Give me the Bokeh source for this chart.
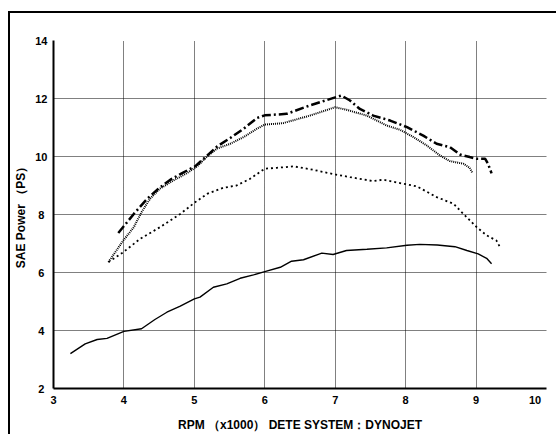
from bokeh.plotting import figure
from bokeh.models import Range1d, FixedTicker
from bokeh.embed import file_html
from bokeh.resources import INLINE

# ---- data ----
x_ticks = [3, 4, 5, 6, 7, 8, 9, 10]
y_ticks = [2, 4, 6, 8, 10, 12, 14]

solid_rpm = [3.24, 3.45, 3.62, 3.76, 4.0, 4.25, 4.44, 4.61, 4.80, 5.0, 5.08, 5.27, 5.46, 5.65, 5.84, 6.0,
             6.22, 6.38, 6.55, 6.81, 6.97, 7.16, 7.45, 7.73, 8.02, 8.20, 8.45, 8.70, 8.87, 9.03, 9.15, 9.22]
solid_ps = [3.20, 3.54, 3.69, 3.73, 3.97, 4.06, 4.38, 4.63, 4.84, 5.09, 5.15, 5.49, 5.61, 5.80, 5.92, 6.03,
            6.18, 6.39, 6.44, 6.67, 6.62, 6.76, 6.80, 6.85, 6.94, 6.97, 6.95, 6.89, 6.76, 6.64, 6.49, 6.30]

dashdot_rpm = [3.92, 4.14, 4.33, 4.49, 4.66, 4.82, 5.01, 5.15, 5.32, 5.51, 5.70, 5.89, 6.0, 6.31, 6.64,
               7.0, 7.09, 7.21, 7.35, 7.54, 7.78, 8.02, 8.25, 8.44, 8.63, 8.77, 8.91, 9.01, 9.13, 9.17, 9.22]
dashdot_ps = [7.36, 8.02, 8.54, 8.89, 9.20, 9.42, 9.66, 9.96, 10.34, 10.64, 10.96, 11.33, 11.42, 11.47, 11.76,
              12.04, 12.10, 11.93, 11.64, 11.41, 11.24, 11.01, 10.72, 10.44, 10.32, 10.07, 9.98, 9.92, 9.92, 9.75, 9.42]

dense_rpm = [3.78, 3.99, 4.14, 4.25, 4.37, 4.51, 4.70, 4.89, 5.04, 5.18, 5.32, 5.51, 5.70, 5.89, 6.0,
             6.26, 6.64, 7.0, 7.16, 7.45, 7.73, 7.92, 8.11, 8.30, 8.49, 8.63, 8.82, 8.91, 8.95]
dense_ps = [6.36, 7.10, 7.56, 8.08, 8.54, 8.89, 9.17, 9.42, 9.66, 10.0, 10.27, 10.44, 10.67, 10.96, 11.10,
            11.15, 11.41, 11.70, 11.61, 11.41, 11.07, 10.92, 10.67, 10.38, 10.03, 9.84, 9.75, 9.61, 9.42]

sparse_rpm = [3.78, 3.99, 4.23, 4.51, 4.80, 5.01, 5.18, 5.41, 5.60, 5.79, 6.0, 6.17, 6.41, 6.69, 7.0,
              7.21, 7.54, 7.68, 7.97, 8.16, 8.44, 8.68, 8.82, 9.01, 9.15, 9.29, 9.34]
sparse_ps = [6.36, 6.70, 7.16, 7.56, 8.02, 8.42, 8.71, 8.92, 9.0, 9.23, 9.58, 9.61, 9.66, 9.54, 9.38,
             9.29, 9.15, 9.20, 9.06, 8.97, 8.60, 8.37, 8.02, 7.56, 7.28, 7.10, 6.87]

x_label = "RPM （x1000） DETE SYSTEM：DYNOJET"
y_label = "SAE Power （PS）"

FONT = "Liberation Sans"
NB = "\u00a0"

p = figure(frame_width=493, frame_height=348, output_backend="svg", toolbar_location=None,
           x_range=Range1d(3, 10), y_range=Range1d(2, 14),
           min_border_left=43, min_border_top=27, min_border_right=10, min_border_bottom=44)
p.styles = {"border-top": "2px solid black", "border-left": "2px solid black",
            "margin-top": "11px", "margin-left": "8px"}
p.outline_line_color = None
p.background_fill_color = "white"
p.border_fill_color = "white"

for ax, ticks in ((p.xaxis[0], x_ticks), (p.yaxis[0], y_ticks)):
    ax.ticker = FixedTicker(ticks=ticks)
    ax.axis_line_width = 2
    ax.axis_line_color = "black"
    ax.major_tick_line_color = None
    ax.minor_tick_line_color = None
    ax.major_tick_out = 0
    ax.major_tick_in = 0
    ax.minor_tick_out = 0
    ax.minor_tick_in = 0
    ax.major_label_text_font = FONT
    ax.major_label_text_font_style = "bold"
    ax.major_label_text_font_size = "11px"
    ax.major_label_text_color = "black"
    ax.axis_label_text_font = FONT
    ax.axis_label_text_font_style = "bold"
    ax.axis_label_text_font_size = "12px"
    ax.axis_label_text_color = "black"

p.xaxis.axis_label = x_label
p.yaxis.axis_label = y_label
p.xaxis.major_label_standoff = 5
p.xaxis.axis_label_standoff = 9
p.yaxis.major_label_standoff = 6
p.yaxis.axis_label_standoff = 4
p.xaxis.major_label_overrides = {10: "10" + NB * 5}
p.yaxis.major_label_overrides = {t: str(t) + NB for t in y_ticks if t < 10}

p.xgrid.ticker = FixedTicker(ticks=x_ticks[1:-1])
p.ygrid.ticker = FixedTicker(ticks=y_ticks[1:-1])
for g in (p.xgrid[0], p.ygrid[0]):
    g.grid_line_color = "black"
    g.grid_line_dash = "1 1"
    g.grid_line_width = 1

p.line(solid_rpm, solid_ps, line_color="black", line_width=1.4)
p.line(sparse_rpm, sparse_ps, line_color="black", line_width=1.8, line_dash="2 3")
p.line(dense_rpm, dense_ps, line_color="black", line_width=2, line_dash="1 1")
p.line(dashdot_rpm, dashdot_ps, line_color="black", line_width=2.5, line_dash="9 3 2 3")

open("out.html", "w").write(file_html(p, INLINE))
